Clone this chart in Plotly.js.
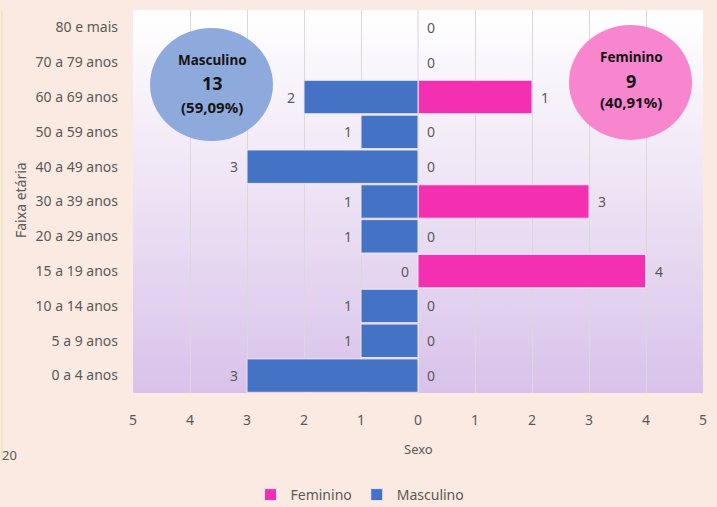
<!DOCTYPE html>
<html><head><meta charset="utf-8">
<script src="https://cdn.plot.ly/plotly-3.0.1.min.js"></script>
<style>html,body{margin:0;padding:0;background:#fbeae1;}#chart{width:717px;height:507px;}</style>
</head><body><div id="chart"></div>
<script>
const categories = ["0 a 4 anos","5 a 9 anos","10 a 14 anos","15 a 19 anos","20 a 29 anos","30 a 39 anos","40 a 49 anos","50 a 59 anos","60 a 69 anos","70 a 79 anos","80 e mais"];
const masculino = [3,1,1,0,1,1,3,1,2,0,0];
const feminino  = [0,0,0,4,0,3,0,0,2,0,0];
// data labels as printed in the original chart
const mascLabels = ["3","1","1","0","1","1","3","1","2","",""];
const femLabels  = ["0","0","0","4","0","3","0","0","1","0","0"];
const xTickVals = [-5,-4,-3,-2,-1,0,1,2,3,4,5];
const xTickText = ["5","4","3","2","1","0","1","2","3","4","5"];

const FONT = "Noto Sans, Open Sans, sans-serif";
const GREY = "#595959";

const traces = [
  {type:"bar", orientation:"h", name:"Feminino", y:categories, x:feminino,
   marker:{color:"#f230b0", line:{color:"#ece4f2", width:1}}, hoverinfo:"skip"},
  {type:"bar", orientation:"h", name:"Masculino", y:categories, x:masculino.map(v=>-v),
   marker:{color:"#4472c4", line:{color:"#ece4f2", width:1}}, hoverinfo:"skip"}
];

const annotations = [];
categories.forEach((c,i)=>{
  if (mascLabels[i] !== "") annotations.push({x:-masculino[i], y:c, xref:"x", yref:"y", text:mascLabels[i],
    showarrow:false, xanchor:"right", xshift:-7, font:{family:FONT, size:14, color:GREY}});
  annotations.push({x:feminino[i], y:c, xref:"x", yref:"y", text:femLabels[i],
    showarrow:false, xanchor:"left", xshift:7, font:{family:FONT, size:14, color:GREY}});
});
const px=(v)=>(v-133)/570, py=(v)=>(393-v)/383;
annotations.push({xref:"paper", yref:"paper", x:px(20), y:py(200), xanchor:"center", yanchor:"middle", text:"Faixa etária", textangle:-90,
  showarrow:false, font:{family:FONT, size:14, color:GREY}});
annotations.push({xref:"paper", yref:"paper", x:0.5, y:py(449), xanchor:"center", yanchor:"middle", text:"Sexo", showarrow:false,
  font:{family:FONT, size:13, color:GREY}});
annotations.push({xref:"paper", yref:"paper", x:px(0), xanchor:"left", y:py(455), yanchor:"middle", text:"20", showarrow:false,
  font:{family:FONT, size:13, color:GREY}});
function circText(cx, ys, lines){
  lines.forEach((l,k)=>annotations.push({xref:"paper", yref:"paper", x:px(cx), y:py(ys[k]), xanchor:"center", yanchor:"middle",
    text:"<b>"+l.t+"</b>", showarrow:false, font:{family:FONT, size:l.s, color:"#151515"}}));
}
circText(212,[60,83,107],[{t:"Masculino",s:13.5},{t:"13",s:18},{t:"(59,09%)",s:15}]);
circText(631,[57,81,102],[{t:"Feminino",s:13.5},{t:"9",s:18},{t:"(40,91%)",s:15}]);

const shapes = [
  {type:"circle", xref:"paper", yref:"paper", x0:px(150), x1:px(273), y0:py(141), y1:py(28), fillcolor:"#8eaadc", line:{width:0}},
  {type:"circle", xref:"paper", yref:"paper", x0:px(569), x1:px(692), y0:py(140), y1:py(25), fillcolor:"#f786cf", line:{width:0}},
  {type:"line", xref:"paper", yref:"paper", x0:px(2), x1:px(2), y0:py(10), y1:py(462), line:{color:"#f1e6c4", width:2}}
];

const svg = "<svg xmlns='http://www.w3.org/2000/svg' width='10' height='100' viewBox='0 0 10 100' preserveAspectRatio='none'><defs><linearGradient id='g' x1='0' y1='0' x2='0' y2='1'><stop offset='0' stop-color='#ffffff'/><stop offset='0.45' stop-color='#efe5f5'/><stop offset='1' stop-color='#d8c2ea'/></linearGradient></defs><rect width='10' height='100' fill='url(#g)'/></svg>";

const layout = {
  width:717, height:507,
  margin:{l:133, r:14, t:10, b:114, autoexpand:false},
  paper_bgcolor:"#fbeae1", plot_bgcolor:"rgba(0,0,0,0)",
  barmode:"relative", bargap:0.04,
  font:{family:FONT, color:GREY},
  showlegend:true,
  legend:{orientation:"h", xref:"container", yref:"container", x:360/717, xanchor:"center", y:(507-495)/507, yanchor:"middle",
    font:{family:FONT, size:14, color:GREY}, traceorder:"normal", bgcolor:"rgba(0,0,0,0)"},
  xaxis:{range:[-5,5], tickvals:xTickVals, ticktext:xTickText, showgrid:true, gridcolor:"#d9d9d9",
    zeroline:false, showline:false, ticks:"", ticklabelstandoff:17, tickfont:{family:FONT, size:14, color:GREY}, fixedrange:true, automargin:false},
  yaxis:{type:"category", categoryorder:"array", categoryarray:categories, showgrid:false, zeroline:false,
    ticks:"", ticklabelstandoff:14, tickfont:{family:FONT, size:14, color:GREY}, fixedrange:true, automargin:false},
  images:[{source:"data:image/svg+xml;charset=utf-8,"+encodeURIComponent(svg), xref:"paper", yref:"paper",
    x:0, y:1, sizex:1, sizey:1, sizing:"stretch", xanchor:"left", yanchor:"top", layer:"below"}],
  shapes:shapes, annotations:annotations
};
Plotly.newPlot("chart", traces, layout, {staticPlot:true, displayModeBar:false});
</script></body></html>
